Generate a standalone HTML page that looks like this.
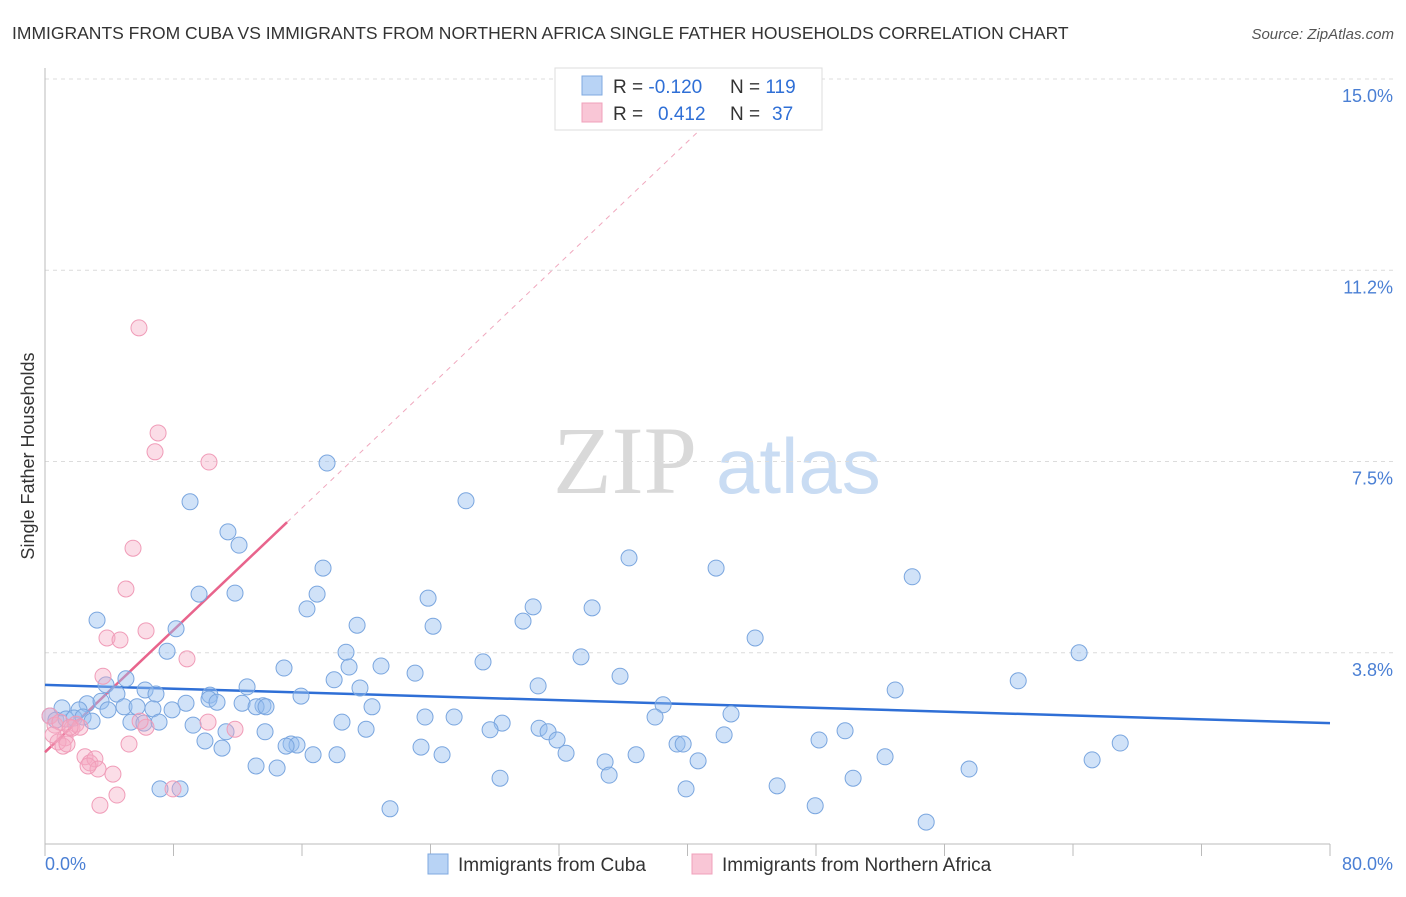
<!DOCTYPE html>
<html><head><meta charset="utf-8">
<style>
html,body{margin:0;padding:0;background:#fff;}
body{width:1406px;height:892px;overflow:hidden;font-family:"Liberation Sans",sans-serif;}
</style></head>
<body>
<svg id="chart" width="1406" height="892" xmlns="http://www.w3.org/2000/svg">
<text x="12" y="39" font-size="17.5" fill="#333">IMMIGRANTS FROM CUBA VS IMMIGRANTS FROM NORTHERN AFRICA SINGLE FATHER HOUSEHOLDS CORRELATION CHART</text>
<text x="1394" y="39" font-size="15" fill="#555" font-style="italic" text-anchor="end">Source: ZipAtlas.com</text>
<g>
<text x="553" y="493" font-size="96" font-family="Liberation Serif,serif" fill="#d9d9d9">ZIP</text>
<text x="716" y="493" font-size="78" fill="#c9dcf3">atlas</text>
</g>
<g id="grid"></g>
<g id="axes"></g>
<g id="lines"></g>
<g id="points"></g>
<text transform="translate(34,456) rotate(-90)" font-size="18" fill="#333" text-anchor="middle">Single Father Households</text>
<text x="45" y="870" font-size="18" fill="#4a7fd4">0.0%</text>
<text x="1393" y="870" font-size="18" fill="#4a7fd4" text-anchor="end">80.0%</text>
<g>
<rect x="555" y="68" width="267" height="62" fill="#fff" stroke="#ddd"/>
<rect x="582" y="76" width="20" height="19" fill="#b8d3f5" stroke="#7fa9e0"/>
<rect x="582" y="103" width="20" height="19" fill="#f9c6d6" stroke="#f0a0bb"/>
<text x="613" y="93" font-size="19" fill="#333">R = <tspan fill="#2f6fd6">-0.120</tspan></text>
<text x="730" y="93" font-size="19" fill="#333">N = <tspan fill="#2f6fd6">119</tspan></text>
<text x="613" y="120" font-size="19" fill="#333">R = <tspan fill="#2f6fd6" x="658">0.412</tspan></text>
<text x="730" y="120" font-size="19" fill="#333">N = <tspan fill="#2f6fd6" x="772">37</tspan></text>
</g>
<g>
<rect x="428" y="854" width="20" height="20" fill="#b8d3f5" stroke="#7fa9e0"/>
<text x="458" y="871" font-size="19" fill="#333">Immigrants from Cuba</text>
<rect x="692" y="854" width="20" height="20" fill="#f9c6d6" stroke="#f0a0bb"/>
<text x="722" y="871" font-size="19" fill="#333">Immigrants from Northern Africa</text>
</g>
</svg>
<script>
const yTicks=[3.75,7.5,11.25,15];
const yTickLabels=["3.8%","7.5%","11.2%","15.0%"];
const xTicks=[0,8,16,24,32,40,48,56,64,72,80];
const cubaX=[9.03,17.56,26.21,11.39,12.08,36.36,41.78,53.99,17.31,9.59,11.83,16.94,23.85,30.39,34.06,16.31,29.76,3.24,24.16,19.43,44.21,8.16,7.60,18.74,64.38,33.37,27.27,18.93,20.92,14.88,23.04,5.04,35.80,18.00,60.59,3.80,6.23,19.61,30.70,52.93,12.58,4.48,6.91,10.27,15.94,10.21,8.78,10.71,2.62,3.49,12.27,13.57,13.14,13.76,20.36,38.48,1.06,2.12,3.92,4.92,5.73,6.72,7.91,0.31,0.68,1.31,1.81,2.37,2.93,5.35,6.16,7.10,9.22,18.49,23.66,25.47,28.46,42.71,37.98,27.71,30.76,31.32,49.81,11.27,13.70,19.99,31.88,42.28,48.19,66.94,9.96,11.02,15.32,15.69,15.01,23.41,39.35,39.73,16.69,18.18,24.72,32.44,36.80,52.30,65.19,34.87,40.66,13.14,14.45,57.53,28.33,35.12,50.31,45.58,7.16,8.41,39.91,21.48,47.95,54.86];
const cubaY=[6.71,7.47,6.73,6.12,5.86,5.61,5.41,5.24,5.41,4.90,4.92,4.90,4.82,4.65,4.63,4.61,4.37,4.39,4.27,4.29,4.04,4.22,3.78,3.76,3.75,3.67,3.57,3.47,3.49,3.45,3.35,3.24,3.29,3.22,3.20,3.12,3.02,3.06,3.10,3.02,3.08,2.94,2.94,2.92,2.90,2.84,2.76,2.78,2.75,2.80,2.76,2.71,2.69,2.69,2.69,2.73,2.67,2.63,2.63,2.69,2.69,2.65,2.63,2.51,2.43,2.45,2.47,2.49,2.41,2.39,2.37,2.39,2.33,2.39,2.49,2.49,2.37,2.55,2.49,2.24,2.27,2.20,2.22,2.20,2.20,2.25,2.04,2.14,2.04,1.98,2.02,1.88,1.96,1.94,1.92,1.90,1.96,1.96,1.75,1.75,1.75,1.78,1.75,1.71,1.65,1.61,1.63,1.53,1.49,1.47,1.29,1.35,1.29,1.14,1.08,1.08,1.08,0.69,0.75,0.43];
const afrX=[5.85,7.04,6.85,10.21,5.48,5.04,3.86,4.67,6.29,8.84,3.61,0.31,0.62,0.93,1.25,1.68,1.93,2.18,0.81,1.12,1.37,2.49,2.80,3.11,3.30,4.23,4.48,3.42,10.15,11.83,5.23,7.97,6.29,5.92,1.56,0.50,2.68];
const afrY=[10.12,8.06,7.69,7.49,5.80,5.00,4.04,4.00,4.18,3.63,3.29,2.51,2.33,2.39,2.08,2.27,2.35,2.29,2.00,1.92,1.96,1.71,1.59,1.67,1.47,1.37,0.96,0.76,2.39,2.25,1.96,1.08,2.29,2.41,2.29,2.14,1.53];
const cubaTrend=[3.12,2.37];
const afrTrend=[1.8,6.31];
const afrTrendEnd=15.07;

const NS="http://www.w3.org/2000/svg";
const X0=45,X1=1330,Y0=844,YPX=51;
function sx(v){return X0+v/80*(X1-X0);}
function sy(v){return Y0-v*YPX;}
function mk(tag,attrs,parent){const e=document.createElementNS(NS,tag);for(const k in attrs)e.setAttribute(k,attrs[k]);parent.appendChild(e);return e;}
const grid=document.getElementById('grid'),axes=document.getElementById('axes'),lines=document.getElementById('lines'),pts=document.getElementById('points');
yTicks.forEach((t,i)=>{
 const l=mk('line',{x1:X0,x2:1393,y1:sy(t),y2:sy(t),stroke:'#dcdcdc','stroke-dasharray':'4,4'},grid);
 
 
 const tx=mk('text',{x:1393,y:sy(t)+23,'font-size':18,fill:'#4a7fd4','text-anchor':'end'},axes);
 tx.textContent=yTickLabels[i];
 
 
});
const ya=mk('line',{x1:X0,x2:X0,y1:68,y2:Y0,stroke:'#bbb'},axes);


const xa=mk('line',{x1:X0,x2:X1,y1:Y0,y2:Y0,stroke:'#bbb'},axes);


xTicks.forEach(t=>{
 const l=mk('line',{x1:sx(t),x2:sx(t),y1:Y0,y2:Y0+12,stroke:'#bbb'},axes);
 
 
});
cubaX.forEach((x,i)=>{
 const c=mk('circle',{cx:sx(x),cy:sy(cubaY[i]),r:8,fill:'rgba(150,190,240,0.45)',stroke:'#7aa6df','stroke-width':1},pts);
 
 
});
afrX.forEach((x,i)=>{
 const c=mk('circle',{cx:sx(x),cy:sy(afrY[i]),r:8,fill:'rgba(245,170,195,0.4)',stroke:'#f09cb8','stroke-width':1},pts);
 
 
});
const bl=mk('line',{x1:sx(0),y1:sy(cubaTrend[0]),x2:sx(80),y2:sy(cubaTrend[1]),stroke:'#2f6fd6','stroke-width':2.5},lines);


const slope=(afrTrend[1]-afrTrend[0])/afrTrendEnd;
const xEnd=(15-afrTrend[0])/slope;
const pd=mk('line',{x1:sx(afrTrendEnd),y1:sy(afrTrend[1]),x2:sx(xEnd),y2:sy(15),stroke:'#f0a8be','stroke-width':1,'stroke-dasharray':'5,5'},lines);


const pl=mk('line',{x1:sx(0),y1:sy(afrTrend[0]),x2:sx(afrTrendEnd),y2:sy(afrTrend[1]),stroke:'#e8648c','stroke-width':2.5},lines);


</script>
</body></html>
